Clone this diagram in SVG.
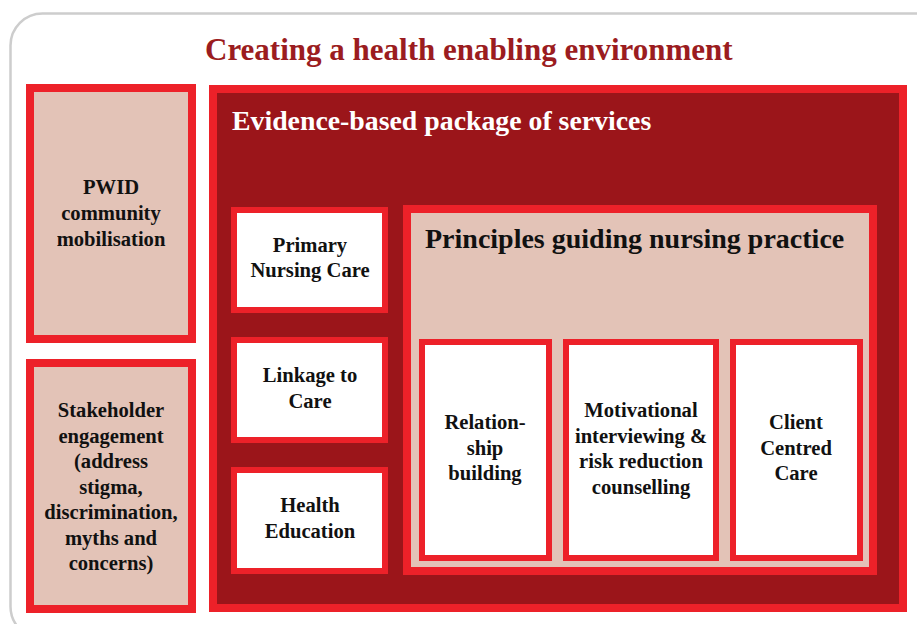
<svg xmlns="http://www.w3.org/2000/svg" width="917" height="624" viewBox="0 0 917 624">
<style>
.bd{stroke:#ED2129;stroke-width:8}
.bd6{stroke:#ED2129;stroke-width:6}
.pk{fill:#E3C3B7}
.wh{fill:#FFFFFF}
.dk{fill:#9B151A}
text{font-family:"Liberation Serif","Times New Roman",serif;font-weight:bold}
.lb{font-size:20.6px;fill:#111;text-anchor:middle}
</style>
<rect x="10.5" y="13.5" width="940" height="625" rx="32" fill="#fff" stroke="#CDCDCD" stroke-width="2.5"/>
<text x="205" y="60" font-size="31" fill="#9B1C20">Creating a health enabling environment</text>
<g id="pwid">
<rect x="30" y="88" width="162" height="251" class="pk bd"/>
<text class="lb"><tspan x="111" y="194">PWID</tspan><tspan x="111" y="220">community</tspan><tspan x="111" y="246">mobilisation</tspan></text>
</g>
<g id="stakeholder">
<rect x="30" y="363" width="162" height="246" class="pk bd"/>
<text class="lb"><tspan x="111" y="417">Stakeholder</tspan><tspan x="111" y="443">engagement</tspan><tspan x="111" y="468">(address</tspan><tspan x="111" y="494">stigma,</tspan><tspan x="111" y="519">discrimination,</tspan><tspan x="111" y="545">myths and</tspan><tspan x="111" y="570">concerns)</tspan></text>
</g>
<g id="evidence">
<rect x="213" y="89" width="690" height="519" class="dk bd"/>
<text x="232" y="130" font-size="27.8" fill="#fff">Evidence-based package of services</text>
</g>
<g id="primary">
<rect x="234" y="210" width="151" height="100" class="wh bd6"/>
<text class="lb"><tspan x="310" y="252">Primary</tspan><tspan x="310" y="277">Nursing Care</tspan></text>
</g>
<g id="linkage">
<rect x="234" y="340" width="151" height="100" class="wh bd6"/>
<text class="lb"><tspan x="310" y="382">Linkage to</tspan><tspan x="310" y="408">Care</tspan></text>
</g>
<g id="health">
<rect x="234" y="470" width="151" height="101" class="wh bd6"/>
<text class="lb"><tspan x="310" y="512">Health</tspan><tspan x="310" y="538">Education</tspan></text>
</g>
<g id="principles">
<rect x="407" y="209" width="466" height="362" class="pk bd"/>
<text x="425" y="248" font-size="28" fill="#111">Principles guiding nursing practice</text>
</g>
<g id="relationship">
<rect x="422" y="342" width="127" height="216" class="wh bd6"/>
<text class="lb"><tspan x="485" y="429">Relation-</tspan><tspan x="485" y="455">ship</tspan><tspan x="485" y="480">building</tspan></text>
</g>
<g id="motivational">
<rect x="566" y="342" width="150" height="216" class="wh bd6"/>
<text class="lb"><tspan x="641" y="417">Motivational</tspan><tspan x="641" y="443">interviewing &amp;</tspan><tspan x="641" y="468">risk reduction</tspan><tspan x="641" y="494">counselling</tspan></text>
</g>
<g id="client">
<rect x="733" y="342" width="127" height="216" class="wh bd6"/>
<text class="lb"><tspan x="796" y="429">Client</tspan><tspan x="796" y="455">Centred</tspan><tspan x="796" y="480">Care</tspan></text>
</g>
<g id="connectors"></g>
</svg>
